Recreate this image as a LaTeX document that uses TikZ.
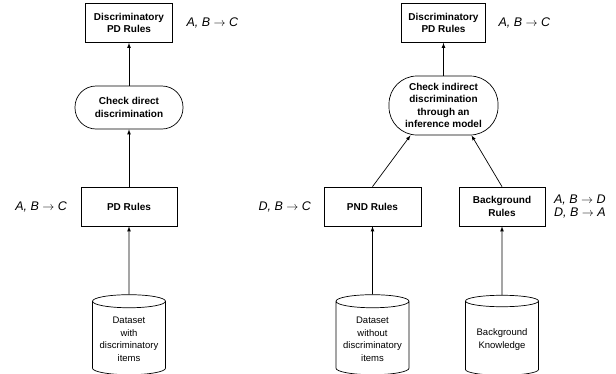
\documentclass[tikz,border=0pt]{standalone}
\usepackage{fontspec}
\setmainfont{Liberation Sans}
\usetikzlibrary{positioning, shapes.geometric}

\begin{document}
\begin{tikzpicture}[x=1pt,y=1pt,>=latex,line width=0.7pt,on grid,
   rulebox/.style={draw, rectangle, minimum height=39pt, align=center,
      font=\fontsize{10}{12.5}\selectfont\bfseries},
   checkbox/.style={draw, rectangle, rounded corners=#1, align=center,
      font=\fontsize{10}{12.5}\selectfont\bfseries},
   store/.style={draw, cylinder, shape border rotate=90, aspect=0.2,
      minimum width=73pt, minimum height=80pt, align=center,
      font=\fontsize{9.5}{12.5}\selectfont},
   rulelbl/.style={align=left, font=\fontsize{12.5}{13}\selectfont\itshape}]
   \useasboundingbox (0,0) rectangle (616,-373);
   % direct discrimination
   \node[rulebox, minimum width=87pt] (ldisc) at (129,-23) {Discriminatory\\PD Rules};
   \node[checkbox=21pt, minimum width=108pt, minimum height=43pt] (ldirect) [below=84.5pt of ldisc] {Check direct\\discrimination};
   \node[rulebox, minimum width=96pt] (lpd) [below=99pt of ldirect] {PD Rules};
   \node[store] (ldata) [below=133pt of lpd] {Dataset\\with\\discriminatory\\items};
   % indirect discrimination
   \node[rulebox, minimum width=84pt] (rdisc) [right=314.5pt of ldisc] {Discriminatory\\PD Rules};
   \node[checkbox=28pt, minimum width=109pt, minimum height=59pt] (rindirect) [below=82.5pt of rdisc] {Check indirect\\discrimination\\through an\\inference model};
   \node[rulebox, minimum width=97pt] (pnd) [right=243.5pt of lpd] {PND Rules};
   \node[rulebox, minimum width=86pt] (bg) [right=129.5pt of pnd] {Background\\Rules};
   \node[store] (rdata) [below=133pt of pnd] {Dataset\\without\\discriminatory\\items};
   \node[store] (bgk) [below=133pt of bg] {Background\\Knowledge};
   % rules next to the boxes
   \node[rulelbl, anchor=west] (ldisclbl) at ([xshift=10pt]ldisc.east) {A, B $\rightarrow$ C};
   \node[rulelbl, anchor=east] (lpdlbl) at ([xshift=-10pt]lpd.west) {A, B $\rightarrow$ C};
   \node[rulelbl, anchor=west] (rdisclbl) at ([xshift=9pt]rdisc.east) {A, B $\rightarrow$ C};
   \node[rulelbl, anchor=east] (pndlbl) at ([xshift=-9pt]pnd.west) {D, B $\rightarrow$ C};
   \node[rulelbl, anchor=west] (bglbl) at ([xshift=5pt]bg.east) {A, B $\rightarrow$ D\\D, B $\rightarrow$ A};
   \path[->]
   (ldirect) edge (ldisc)
   (lpd) edge (ldirect)
   (ldata) edge (lpd)
   (rindirect) edge (rdisc)
   (pnd.north) edge ([xshift=-33pt]rindirect.south)
   (bg.north) edge ([xshift=28pt]rindirect.south)
   (rdata) edge (pnd)
   (bgk) edge (bg);
\end{tikzpicture}
\end{document}
